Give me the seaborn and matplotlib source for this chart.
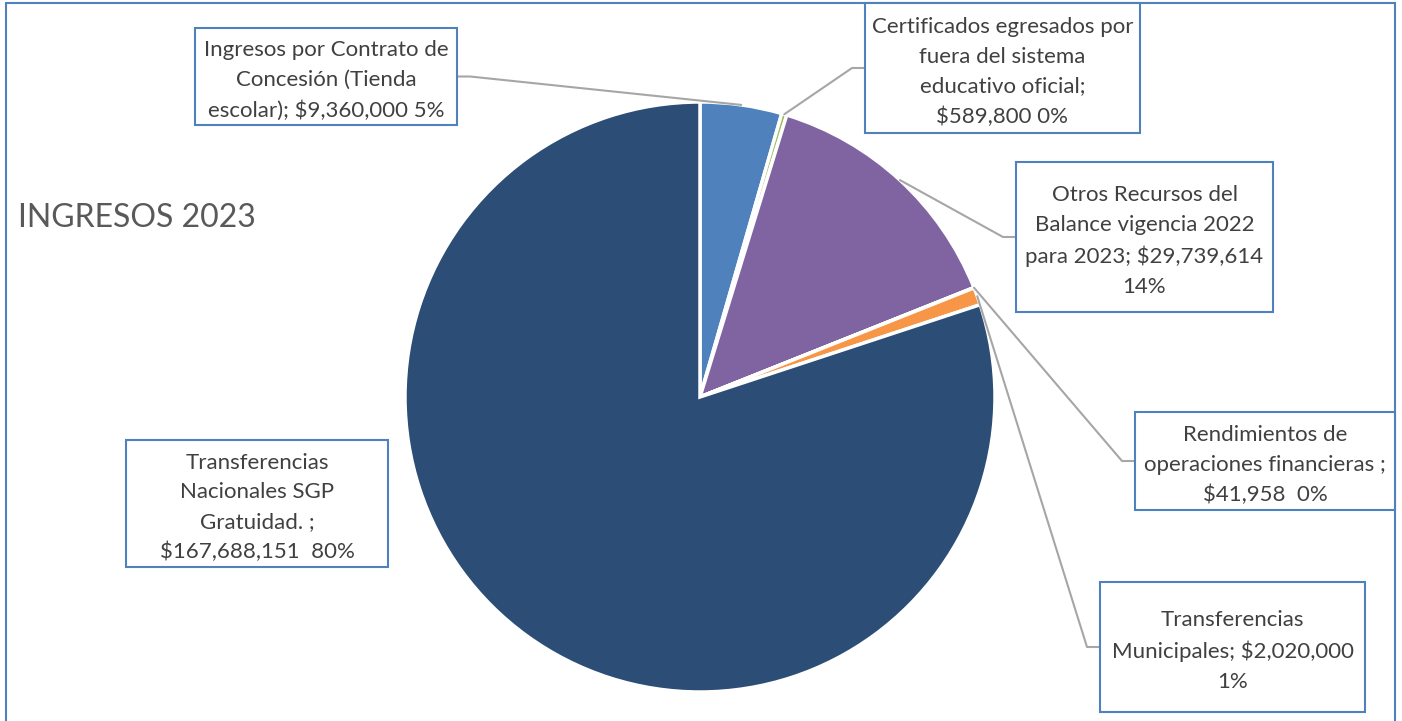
import numpy as np
import matplotlib
matplotlib.use("Agg")
import matplotlib.pyplot as plt
from matplotlib.patches import Rectangle
import seaborn as sns

# datos del grafico (sentido horario desde arriba)
conceptos = [
    "Ingresos por Contrato de\nConcesión (Tienda\nescolar); $9,360,000 5%",
    "Certificados egresados por\nfuera del sistema\neducativo oficial;\n$589,800 0%",
    "Otros Recursos del\nBalance vigencia 2022\npara 2023; $29,739,614\n14%",
    "Rendimientos de\noperaciones financieras ;\n$41,958  0%",
    "Transferencias\nMunicipales; $2,020,000\n1%",
    "Transferencias\nNacionales SGP\nGratuidad. ;\n$167,688,151  80%",
]
valores = [9360000, 589800, 29739614, 41958, 2020000, 167688151]
colores = ["#4F81BD", "#9BBB59", "#8064A2", "#4BACC6", "#F79646", "#2C4D75"]

# cajas de etiqueta: (x0, y0_top, ancho, alto) en pixeles de la imagen
cajas = [
    (195, 28, 262, 97),
    (865, 3, 275, 130),
    (1016, 162, 257, 150),
    (1135, 412, 260, 98),
    (1100, 582, 265, 130),
    (126, 440, 262, 127),
]
con_guia = [True, True, True, True, True, False]

W, H = 1402, 721
sns.set_theme(style="white")
plt.rcParams["font.family"] = ["Lato", "DejaVu Sans"]

fig = plt.figure(figsize=(W / 100, H / 100), dpi=100)
ax = fig.add_axes([0, 0, 1, 1])
ax.set_xlim(0, W)
ax.set_ylim(0, H)
ax.set_aspect("equal")
ax.axis("off")

cx, cy, r = 700, H - 397, 295
wedges, _ = ax.pie(valores, colors=colores, startangle=90, counterclock=False,
                   center=(cx, cy), radius=r,
                   wedgeprops=dict(edgecolor="white", linewidth=2.5))
ax.set_xlim(0, W)
ax.set_ylim(0, H)

# borde del area del grafico
ax.add_patch(Rectangle((6, -20), 1389, H - 3 + 20, fill=False,
                       edgecolor="#4F81BD", linewidth=1.5, zorder=1))

ax.text(18, H - 218, "INGRESOS 2023", fontsize=23, color="#595959",
        ha="left", va="center")

gris = "#A6A6A6"
for w, txt, (x0, yt, bw, bh), guia in zip(wedges, conceptos, cajas, con_guia):
    y0 = H - yt - bh
    ax.add_patch(Rectangle((x0, y0), bw, bh, facecolor="white",
                           edgecolor="#4F81BD", linewidth=1.5, zorder=5))
    ax.text(x0 + bw / 2, y0 + bh / 2 - 4, txt, ha="center", va="center",
            fontsize=16, color="#404040", linespacing=1.6, zorder=6)
    if guia:
        ang = np.deg2rad((w.theta1 + w.theta2) / 2)
        px, py = cx + r * np.cos(ang), cy + r * np.sin(ang)
        ym = y0 + bh / 2
        if x0 > cx:
            xs = [px, x0 - 13, x0]
        else:
            xs = [px, x0 + bw + 13, x0 + bw]
        ax.plot(xs, [py, ym, ym], color=gris, linewidth=1.5, zorder=4)

fig.savefig("out.png", dpi=100, facecolor="white")
